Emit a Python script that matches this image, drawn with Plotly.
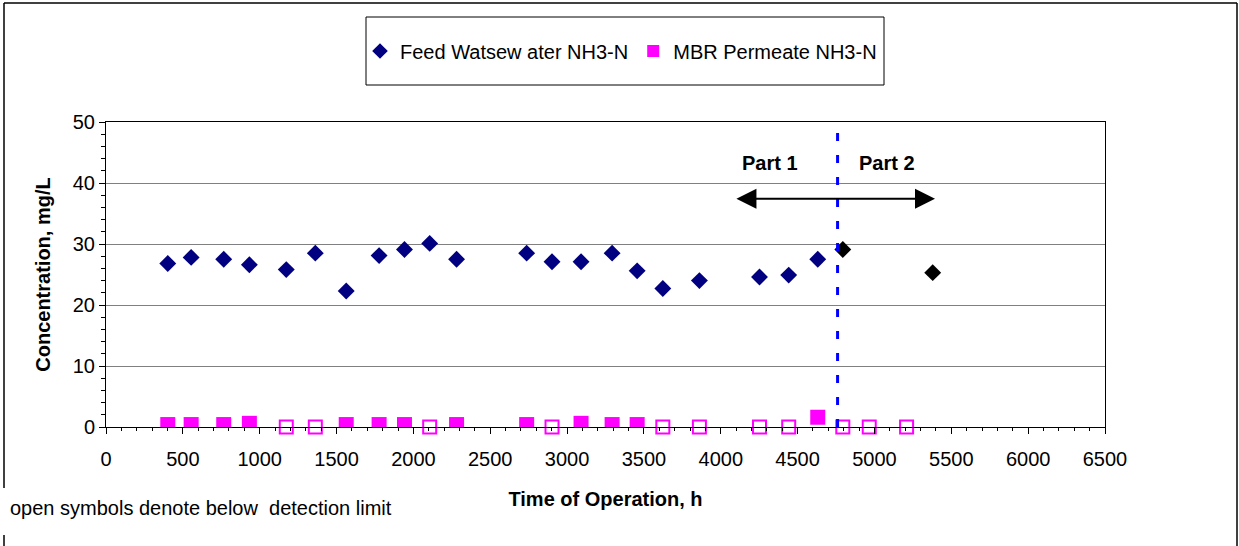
import plotly.graph_objects as go

# Feed wastewater NH3-N, part 1 (navy) and part 2 (black)
feed_t = [402, 554, 766, 933, 1173, 1362, 1563, 1777, 1942, 2106, 2281,
          2737, 2902, 3091, 3293, 3456, 3623, 3861, 4252, 4442, 4631]
feed_c = [26.8, 27.8, 27.5, 26.6, 25.8, 28.5, 22.3, 28.1, 29.1, 30.1, 27.5,
          28.5, 27.1, 27.1, 28.5, 25.6, 22.7, 24.0, 24.6, 24.9, 27.5]
feed2_t = [4794, 5379]
feed2_c = [29.1, 25.3]

# MBR permeate NH3-N, measured (filled) and below detection limit (open)
perm_t = [402, 554, 766, 933, 1563, 1777, 1942, 2281, 2737, 3091, 3293, 3456, 4631]
perm_c = [0.4, 0.4, 0.4, 0.6, 0.4, 0.4, 0.4, 0.4, 0.4, 0.6, 0.4, 0.4, 1.6]
bdl_t = [1173, 1362, 2106, 2902, 3623, 3861, 4252, 4442, 4794, 4966, 5209]
bdl_c = [0, 0, 0, 0, 0, 0, 0, 0, 0, 0, 0]

part_split = 4760          # start of part 2, h
part_arrow = [4092, 5394]  # extent of the double arrow, h
arrow_y = 37.4

FONT = "Liberation Sans, Arial, sans-serif"
W, H = 1239, 546
L, R, T, B = 106, 134, 122, 119


def px(x):
    return (x - L) / (W - L - R)


def py(y):
    return (H - B - y) / (H - T - B)


fig = go.Figure()

fig.add_trace(go.Scatter(
    x=feed_t, y=feed_c, mode="markers", name="Feed Watsew ater NH3-N",
    marker=dict(symbol="diamond", size=13, color="#000080", line=dict(width=0))
))
fig.add_trace(go.Scatter(
    x=perm_t, y=perm_c, mode="markers", name="MBR Permeate NH3-N",
    marker=dict(symbol="square", size=15, color="#FF00FF", line=dict(width=0))
))
fig.add_trace(go.Scatter(
    x=feed2_t, y=feed2_c, mode="markers", showlegend=False,
    marker=dict(symbol="diamond", size=13, color="black", line=dict(width=0))
))
fig.add_trace(go.Scatter(
    x=bdl_t, y=bdl_c, mode="markers", showlegend=False, cliponaxis=False,
    marker=dict(symbol="square-open", size=13, color="#FF00FF",
                line=dict(width=2, color="#FF00FF"))
))

# boundary between part 1 and part 2
fig.add_shape(type="line", x0=part_split, x1=part_split, y0=0, y1=50,
              line=dict(color="#0000FF", width=3, dash="8px,14px"))

# double arrow
fig.add_annotation(x=part_arrow[1], y=arrow_y, ax=part_arrow[0], ay=arrow_y,
                   xref="x", yref="y", axref="x", ayref="y", text="",
                   showarrow=True, arrowside="end+start",
                   arrowhead=2, arrowsize=2, arrowwidth=2, arrowcolor="black",
                   startarrowhead=2, startarrowsize=2)
fig.add_annotation(x=4320, y=43.3, xref="x", yref="y", text="<b>Part 1</b>",
                   showarrow=False, font=dict(size=20, color="black", family=FONT))
fig.add_annotation(x=5081, y=43.3, xref="x", yref="y", text="<b>Part 2</b>",
                   showarrow=False, font=dict(size=20, color="black", family=FONT))

# footnote
fig.add_annotation(x=px(8), y=py(508), xref="paper", yref="paper",
                   xanchor="left", yanchor="middle", showarrow=False,
                   text="open symbols denote below\u00a0 detection limit",
                   font=dict(size=20, color="black", family=FONT))

# outer frame (left edge interrupted by the footnote)
frame = dict(color="black", width=1.5)
fig.add_shape(type="line", xref="paper", yref="paper",
              x0=px(4), x1=px(1237), y0=py(3), y1=py(3), line=frame)
fig.add_shape(type="line", xref="paper", yref="paper",
              x0=px(1237), x1=px(1237), y0=py(3), y1=py(560), line=frame)
fig.add_shape(type="line", xref="paper", yref="paper",
              x0=px(4), x1=px(4), y0=py(3), y1=py(488), line=frame)
fig.add_shape(type="line", xref="paper", yref="paper",
              x0=px(4), x1=px(4), y0=py(535), y1=py(560), line=frame)

# legend frame
fig.add_shape(type="rect", xref="paper", yref="paper",
              x0=px(366), x1=px(884), y0=py(17), y1=py(85),
              line=dict(color="black", width=1))

fig.update_layout(
    width=W, height=H,
    margin=dict(l=L, r=R, t=T, b=B),
    paper_bgcolor="white", plot_bgcolor="white",
    font=dict(family=FONT, size=20, color="black"),
    showlegend=True,
    legend=dict(orientation="h", x=px(621), y=py(51), xanchor="center",
                yanchor="middle", bgcolor="rgba(0,0,0,0)", borderwidth=0,
                font=dict(size=20), itemsizing="constant"),
    xaxis=dict(
        range=[0, 6500], tick0=0, dtick=500, showgrid=False, zeroline=False,
        showline=True, linecolor="black", linewidth=1, mirror=True,
        ticks="outside", ticklen=6, tickcolor="black", ticklabelstandoff=8,
        minor=dict(dtick=100, ticks="outside", ticklen=3, tickcolor="black",
                   showgrid=False),
        title=dict(text="<b>Time of Operation, h</b>", standoff=22,
                   font=dict(size=20)),
    ),
    yaxis=dict(
        range=[0, 50], tick0=0, dtick=10, showgrid=True, gridcolor="#808080",
        gridwidth=1, zeroline=False,
        showline=True, linecolor="black", linewidth=1, mirror=True,
        ticks="outside", ticklen=6, tickcolor="black",
        minor=dict(dtick=2, ticks="outside", ticklen=4, tickcolor="black",
                   showgrid=False),
        title=dict(text="<b>Concentration, mg/L</b>", standoff=16,
                   font=dict(size=20)),
    ),
)

# drop the browser's default page margin so the figure sits at the window corner
fig.write_html("out.html", config={"displayModeBar": False},
               post_script="document.body.style.margin='0';document.body.style.overflow='hidden';")
